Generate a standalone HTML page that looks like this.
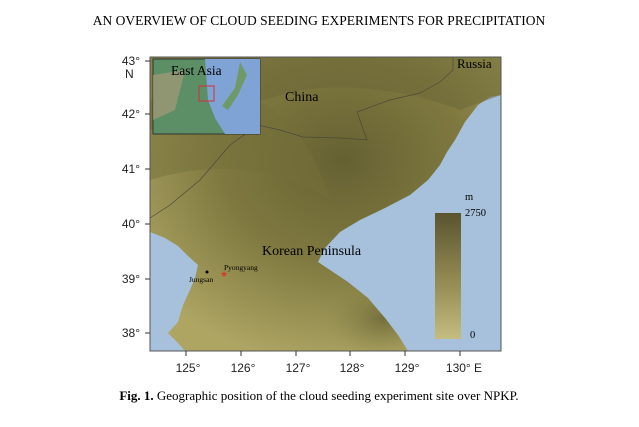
<!DOCTYPE html>
<html><head><style>
body{margin:0;background:#fff;width:639px;height:422px;overflow:hidden;font-family:"Liberation Serif",serif;}
</style></head><body>
<svg width="639" height="422" xmlns="http://www.w3.org/2000/svg">
<defs>
<linearGradient id="cb" x1="0" y1="1" x2="0" y2="0">
<stop offset="0" stop-color="#c5bc80"/><stop offset="0.5" stop-color="#8f8650"/><stop offset="1" stop-color="#5a5430"/>
</linearGradient>
<radialGradient id="land" cx="0.55" cy="0.35" r="0.7">
<stop offset="0" stop-color="#666132"/><stop offset="0.5" stop-color="#7f7940"/><stop offset="1" stop-color="#aea563"/>
</radialGradient>
<radialGradient id="south" cx="0.8" cy="0.6" r="0.5">
<stop offset="0" stop-color="#6a6536" stop-opacity="0.8"/><stop offset="1" stop-color="#8a8448" stop-opacity="0"/>
</radialGradient>
</defs>
<text x="319" y="25" text-anchor="middle" font-size="13.5" font-family="Liberation Serif, serif">AN OVERVIEW OF CLOUD SEEDING EXPERIMENTS FOR PRECIPITATION</text>
<rect x="150" y="57" width="351" height="294" fill="#a7c1dd"/>
<path d="M150,57 L501,57 L501,95 L490,97 L478,105 L465,122 L455,140 L447,152 L440,165 L428,180 L410,195 L385,208 L360,220 L340,232 L325,248 L318,262 L330,270 L348,282 L368,298 L385,318 L398,335 L408,351 L185,351 L178,343 L168,333 L178,322 L183,305 L190,290 L195,278 L198,265 L188,256 L178,246 L165,238 L150,232 Z" fill="url(#land)"/>
<path d="M330,270 L348,282 L368,298 L385,318 L398,335 L408,351 L300,351 L290,300 Z" fill="url(#south)"/>
<path d="M150,180 Q250,150 330,200 Q300,100 220,90 L150,100 Z" fill="#747039" opacity="0.5"/>
<path d="M150,57 L501,57 L501,95 L460,110 Q380,80 300,90 L150,130 Z" fill="#6a6536" opacity="0.5"/>
<path d="M150,218 L170,205 L200,180 L230,145 L258,125 L280,130 L303,137 L340,138 L367,140 L357,112 L390,100 L420,93 L440,82 L453,70 L453,57" fill="none" stroke="#4a4a3a" stroke-width="0.7"/>
<rect x="153" y="59" width="107" height="75" fill="#5c8f66" stroke="#333" stroke-width="1"/>
<path d="M205,59 L260,59 L260,134 L225,134 L215,118 L208,100 Z" fill="#7fa3d4"/>
<path d="M153,75 L185,70 L175,110 L153,120 Z" fill="#a89878" opacity="0.7"/>
<path d="M240,62 L247,75 L238,95 L228,110 L222,106 L235,88 Z" fill="#6e9a6a"/>
<rect x="199" y="86" width="15" height="15" fill="none" stroke="#d0303a" stroke-width="1"/>
<text x="171" y="75" font-size="13.5">East Asia</text>
<text x="285" y="101" font-size="14">China</text>
<text x="457" y="68" font-size="13">Russia</text>
<text x="262" y="255" font-size="14">Korean Peninsula</text>
<text x="224" y="270" font-size="7.5">Pyongyang</text>
<text x="189" y="282" font-size="7.5">Jungsan</text>
<circle cx="207" cy="272" r="1.5" fill="#000"/>
<text x="224" y="277" font-size="9" fill="#d83a2a" text-anchor="middle">★</text>
<rect x="435" y="213" width="26" height="126" fill="url(#cb)"/>
<text x="465" y="200" font-size="10.5">m</text>
<text x="465" y="216" font-size="10.5">2750</text>
<text x="470" y="338" font-size="10.5">0</text>
<rect x="150" y="57" width="351" height="294" fill="none" stroke="#555" stroke-width="1"/>
<g stroke="#333" stroke-width="1">
<line x1="145" y1="61" x2="150" y2="61"/><line x1="145" y1="114" x2="150" y2="114"/><line x1="145" y1="169" x2="150" y2="169"/><line x1="145" y1="224" x2="150" y2="224"/><line x1="145" y1="279" x2="150" y2="279"/><line x1="145" y1="333" x2="150" y2="333"/>
<line x1="186" y1="351" x2="186" y2="356"/><line x1="241" y1="351" x2="241" y2="356"/><line x1="296" y1="351" x2="296" y2="356"/><line x1="350" y1="351" x2="350" y2="356"/><line x1="405" y1="351" x2="405" y2="356"/><line x1="460" y1="351" x2="460" y2="356"/>
</g>
<g font-family="Liberation Sans, sans-serif" font-size="12" fill="#222">
<text x="140" y="65" text-anchor="end">43°</text><text x="125" y="78">N</text>
<text x="140" y="118" text-anchor="end">42°</text>
<text x="140" y="173" text-anchor="end">41°</text>
<text x="140" y="228" text-anchor="end">40°</text>
<text x="140" y="283" text-anchor="end">39°</text>
<text x="140" y="337" text-anchor="end">38°</text>
<text x="188" y="372" text-anchor="middle">125°</text>
<text x="243" y="372" text-anchor="middle">126°</text>
<text x="298" y="372" text-anchor="middle">127°</text>
<text x="352" y="372" text-anchor="middle">128°</text>
<text x="407" y="372" text-anchor="middle">129°</text>
<text x="464" y="372" text-anchor="middle">130° E</text>
</g>
<text x="319" y="400" text-anchor="middle" font-size="13"><tspan font-weight="bold">Fig. 1.</tspan> Geographic position of the cloud seeding experiment site over NPKP.</text>
</svg>
</body></html>
